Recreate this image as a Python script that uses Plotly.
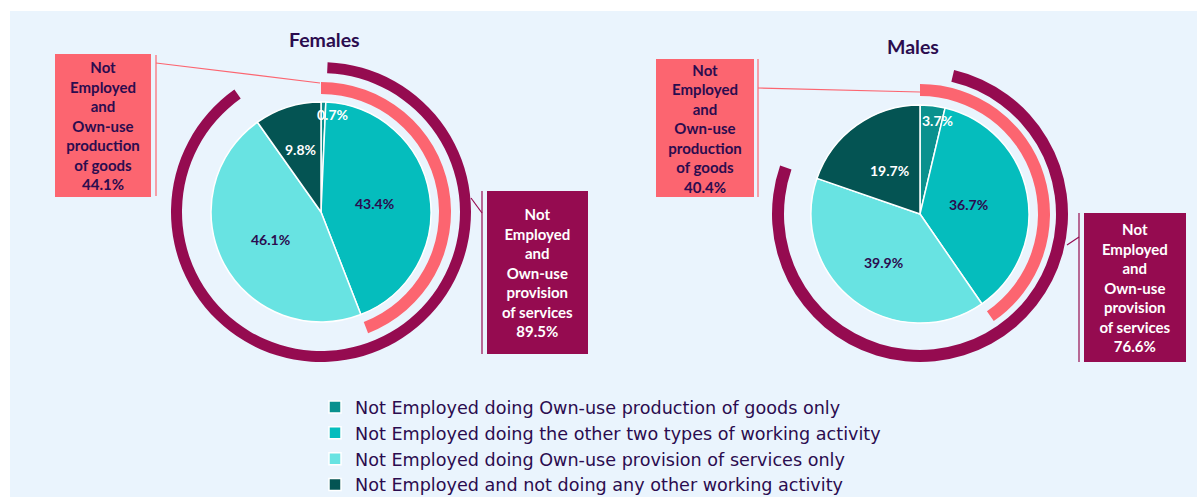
import math
import plotly.graph_objects as go

# ---- data -------------------------------------------------------------
categories = [
    "Not Employed doing Own-use production of goods only",
    "Not Employed doing the other two types of working activity",
    "Not Employed doing Own-use provision of services only",
    "Not Employed and not doing any other working activity",
]
females = [0.7, 43.4, 46.1, 9.8]
males = [3.7, 36.7, 39.9, 19.7]
panel_titles = ["Females", "Males"]
goods_label = "Not<br>Employed<br>and<br>Own-use<br>production<br>of goods"
services_label = "Not<br>Employed<br>and<br>Own-use<br>provision<br>of services"

# ---- style ------------------------------------------------------------
W, H = 1197, 497
slice_colors = ["#0A918E", "#05BDBD", "#68E3E2", "#045453"]
slice_text_colors = ["white", "#2B0C4F", "#2B0C4F", "white"]
SALMON = "#FC6570"
PURPLE = "#950B50"
DARK = "#2B0C4F"
PANEL = "#EAF4FD"
FONT = "Lato"
CLEAR = "rgba(0,0,0,0)"


def fx(x):
    return x / W


def fy(y):
    return 1 - y / H


def domain(cx, cy, r):
    return dict(x=[fx(cx - r), fx(cx + r)], y=[fy(cy + r), fy(cy - r)])


fig = go.Figure()

panels = [
    dict(values=females, cx=321, cy=212, R=110, purple_out=150, purple_in=139,
         title_xy=(324, 40),
         label_r=[0.89, 0.49, 0.52, 0.60], label_dx=[9, 0, 0, 0],
         goods_box=(102.5, 125.5, 96, 143), serv_box=(537.5, 272.5, 101, 163),
         goods_lines=[(156, 55, 156, 196), (156, 63, 320, 83)],
         serv_lines=[(482, 191, 482, 354), (471, 198, 482, 213)]),
    dict(values=males, cx=920, cy=214, R=109, purple_out=148, purple_in=136,
         title_xy=(913, 47),
         label_r=[0.86, 0.45, 0.56, 0.49], label_dx=[7, 0, 0, 0],
         goods_box=(705, 128, 98, 138), serv_box=(1135, 287.5, 102, 149),
         goods_lines=[(758, 59, 758, 197), (758, 88, 920, 92)],
         serv_lines=[(1079, 213, 1079, 362), (1067, 245, 1079, 237)]),
]

annotations = []
shapes = [dict(type="rect", xref="paper", yref="paper", x0=fx(10), x1=1,
               y0=0, y1=fy(11), fillcolor=PANEL, line_width=0, layer="below")]

for i, p in enumerate(panels):
    vals = p["values"]
    cx, cy, R = p["cx"], p["cy"], p["R"]

    # main pie
    fig.add_trace(go.Pie(
        labels=categories, values=vals, sort=False, direction="clockwise",
        rotation=0, domain=domain(cx, cy, R), textinfo="none",
        marker=dict(colors=slice_colors, line=dict(color="white", width=1.5)),
        showlegend=(i == 0), hoverinfo="label+percent",
    ))

    goods_total = vals[0] + vals[1]
    services_total = vals[1] + vals[2]

    # ring: own-use production of goods (goods only + both)
    fig.add_trace(go.Pie(
        labels=["goods", "rest"], values=[goods_total, 100 - goods_total],
        sort=False, direction="clockwise", rotation=0, hole=118 / 130,
        domain=domain(cx, cy, 130), textinfo="none", hoverinfo="skip",
        marker=dict(colors=[SALMON, CLEAR], line=dict(width=0)),
        showlegend=False,
    ))

    # ring: own-use provision of services (both + services only)
    fig.add_trace(go.Pie(
        labels=["lead", "services", "tail"],
        values=[vals[0], services_total, 100 - vals[0] - services_total],
        sort=False, direction="clockwise", rotation=0,
        hole=p["purple_in"] / p["purple_out"],
        domain=domain(cx, cy, p["purple_out"]), textinfo="none", hoverinfo="skip",
        marker=dict(colors=[CLEAR, PURPLE, CLEAR], line=dict(width=0)),
        showlegend=False,
    ))

    # slice value labels, placed along each slice's mid angle
    cum = 0.0
    for j, v in enumerate(vals):
        theta = math.radians((cum + v / 2) * 3.6)
        cum += v
        rr = p["label_r"][j] * R
        lx = cx + rr * math.sin(theta) + p["label_dx"][j]
        ly = cy - rr * math.cos(theta)
        annotations.append(dict(
            x=fx(lx), y=fy(ly), xref="paper", yref="paper", showarrow=False,
            text=f"<b>{v:.1f}%</b>", xanchor="center", yanchor="middle",
            font=dict(family=FONT, size=14, color=slice_text_colors[j]),
        ))

    # panel title
    tx, ty = p["title_xy"]
    annotations.append(dict(
        x=fx(tx), y=fy(ty), xref="paper", yref="paper", showarrow=False,
        text=f"<b>{panel_titles[i]}</b>", xanchor="center", yanchor="middle",
        font=dict(family=FONT, size=19.5, color=DARK),
    ))

    # callout boxes
    for box, label, total, bg, fg in [
        (p["goods_box"], goods_label, goods_total, SALMON, DARK),
        (p["serv_box"], services_label, services_total, PURPLE, "white"),
    ]:
        bx, by, bw, bh = box
        annotations.append(dict(
            x=fx(bx), y=fy(by), xref="paper", yref="paper", showarrow=False,
            text=f"<b>{label}<br>{total:.1f}%</b>", align="center",
            xanchor="center", yanchor="middle", width=bw, height=bh,
            bgcolor=bg, borderpad=0, borderwidth=0,
            font=dict(family=FONT, size=15, color=fg),
        ))

    # leader lines
    for lines, col in [(p["goods_lines"], SALMON), (p["serv_lines"], PURPLE)]:
        for x0, y0, x1, y1 in lines:
            shapes.append(dict(type="line", xref="paper", yref="paper",
                               x0=fx(x0), y0=fy(y0), x1=fx(x1), y1=fy(y1),
                               line=dict(color=col, width=1.2)))

fig.update_layout(
    width=W, height=H,
    margin=dict(l=0, r=0, t=0, b=0, autoexpand=False),
    paper_bgcolor="white",
    plot_bgcolor="white",
    annotations=annotations,
    shapes=shapes,
    legend=dict(
        orientation="v", x=fx(315), xanchor="left",
        y=fy(389), yanchor="top",
        bgcolor=CLEAR, traceorder="normal",
        font=dict(family="DejaVu Sans", size=17.6, color=DARK),
    ),
)

fig.write_html("out.html")
